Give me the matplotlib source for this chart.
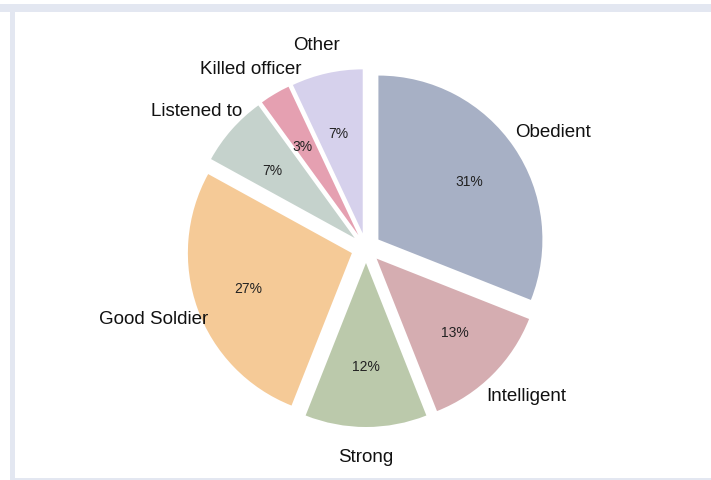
import numpy as np
import matplotlib
matplotlib.use("Agg")
import matplotlib.pyplot as plt
from matplotlib.patches import Rectangle

categories = ["Obedient", "Intelligent", "Strong", "Good Soldier", "Listened to", "Killed officer", "Other"]
values = [31, 13, 12, 27, 7, 3, 7]
colors = ["#a7b0c5", "#d5adb1", "#bbc9ab", "#f5ca97", "#c5d2cc", "#e5a0b1", "#d6d1ec"]

plt.rcParams['font.family'] = ['Liberation Sans', 'DejaVu Sans']

W, H = 711, 481
fig = plt.figure(figsize=(W / 100, H / 100), dpi=100)
fig.patch.set_facecolor("white")

# frame bands
band = "#e3e7f1"
fig.patches.append(Rectangle((0, 1 - 13 / H), 1, 8 / H, transform=fig.transFigure,
                             facecolor=band, edgecolor="none", zorder=0))
fig.patches.append(Rectangle((10 / W, 0), 5 / W, 1 - 5 / H, transform=fig.transFigure,
                             facecolor=band, edgecolor="none", zorder=0))
fig.patches.append(Rectangle((10 / W, 0), 1, 2 / H, transform=fig.transFigure,
                             facecolor=band, edgecolor="none", zorder=0))

ax = fig.add_axes([0, 0, 1, 1])
ax.patch.set_alpha(0)

R = 164
cx, cy = 366, H - 249
expl = 15
explode = [expl] * len(values)

wedges, texts, autotexts = ax.pie(
    values, labels=categories, colors=colors, explode=explode,
    startangle=90, counterclock=False, radius=R, center=(cx, cy),
    autopct=lambda p: f"{p:.0f}%", pctdistance=0.63, labeldistance=1.177,
    textprops=dict(fontsize=13.5, color="#111111"),
    wedgeprops=dict(linewidth=0),
)


def stretch_x(txt, w, k):
    th = np.deg2rad((w.theta1 + w.theta2) / 2)
    ex = cx + expl * np.cos(th)
    x, y = txt.get_position()
    txt.set_position((ex + (x - ex) * k, y))


for w, t in zip(wedges, texts):
    t.set_ha("center")
    t.set_va("center")
    stretch_x(t, w, 211 / 193)
for w, t in zip(wedges, autotexts):
    t.set_fontsize(10)
    t.set_color("#222222")
    stretch_x(t, w, 110 / 103)

ax.set_xlim(0, W)
ax.set_ylim(0, H)
ax.set_aspect("auto")
ax.axis("off")

fig.savefig("out.png", dpi=100)
